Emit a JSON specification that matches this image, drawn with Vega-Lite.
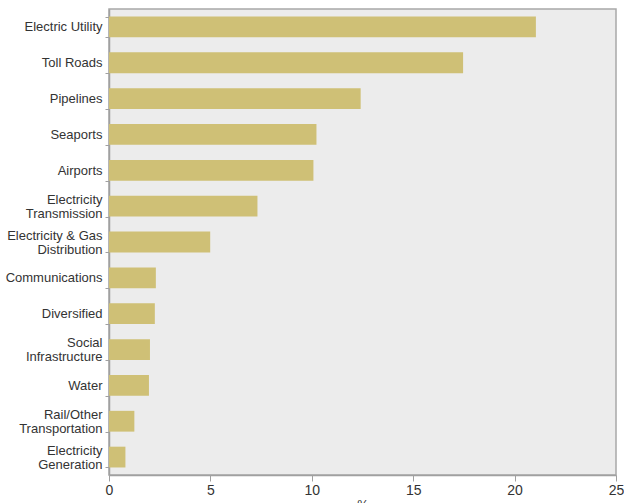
{
  "$schema": "https://vega.github.io/schema/vega-lite/v6.json",
  "width": 507,
  "height": 466,
  "autosize": {"type": "none"},
  "padding": {"left": 109, "top": 9, "right": 8, "bottom": 28},
  "background": "white",
  "config": {
    "view": {"fill": "#ececec", "stroke": "#a8a8a8", "strokeWidth": 1.5},
    "font": "Liberation Sans Narrow, Liberation Sans",
    "axis": {"labelFont": "Liberation Sans Narrow, Liberation Sans", "labelColor": "#333333", "domainColor": "#a0a0a0", "tickColor": "#a0a0a0", "domainWidth": 1.5, "grid": false}
  },
  "data": {
    "values": [
      {"sector": "Electric Utility", "pct": 21.05},
      {"sector": "Toll Roads", "pct": 17.46},
      {"sector": "Pipelines", "pct": 12.41},
      {"sector": "Seaports", "pct": 10.23},
      {"sector": "Airports", "pct": 10.08},
      {"sector": "Electricity\nTransmission", "pct": 7.32},
      {"sector": "Electricity & Gas\nDistribution", "pct": 4.99},
      {"sector": "Communications", "pct": 2.31},
      {"sector": "Diversified", "pct": 2.26},
      {"sector": "Social\nInfrastructure", "pct": 2.02},
      {"sector": "Water", "pct": 1.97},
      {"sector": "Rail/Other\nTransportation", "pct": 1.25},
      {"sector": "Electricity\nGeneration", "pct": 0.81}
    ]
  },
  "mark": {"type": "bar", "color": "#cfc076"},
  "encoding": {
    "y": {
      "field": "sector",
      "type": "nominal",
      "sort": null,
      "scale": {"paddingInner": 0.42, "paddingOuter": 0.21},
      "axis": {
        "title": null,
        "labelExpr": "indexof(datum.label, '\\n') >= 0 ? [split(datum.label, '\\n')[0], '\u200b', split(datum.label, '\\n')[1]] : ['', datum.label]",
        "labelFontSize": 13,
        "labelLineHeight": 7,
        "labelOffset": -7,
        "tickBand": "extent",
        "tickSize": 4,
        "labelPadding": 3,
        "labelLimit": 200
      }
    },
    "x": {
      "field": "pct",
      "type": "quantitative",
      "scale": {"domain": [0, 25], "nice": false},
      "axis": {
        "title": "%",
        "titleFontSize": 13,
        "titleFontWeight": "normal",
        "titleColor": "#333333",
        "titleFont": "Liberation Sans Narrow, Liberation Sans",
        "titlePadding": 1,
        "values": [0, 5, 10, 15, 20, 25],
        "labelFontSize": 14,
        "tickSize": 6,
        "labelPadding": 2,
        "labelFlush": false
      }
    }
  }
}
